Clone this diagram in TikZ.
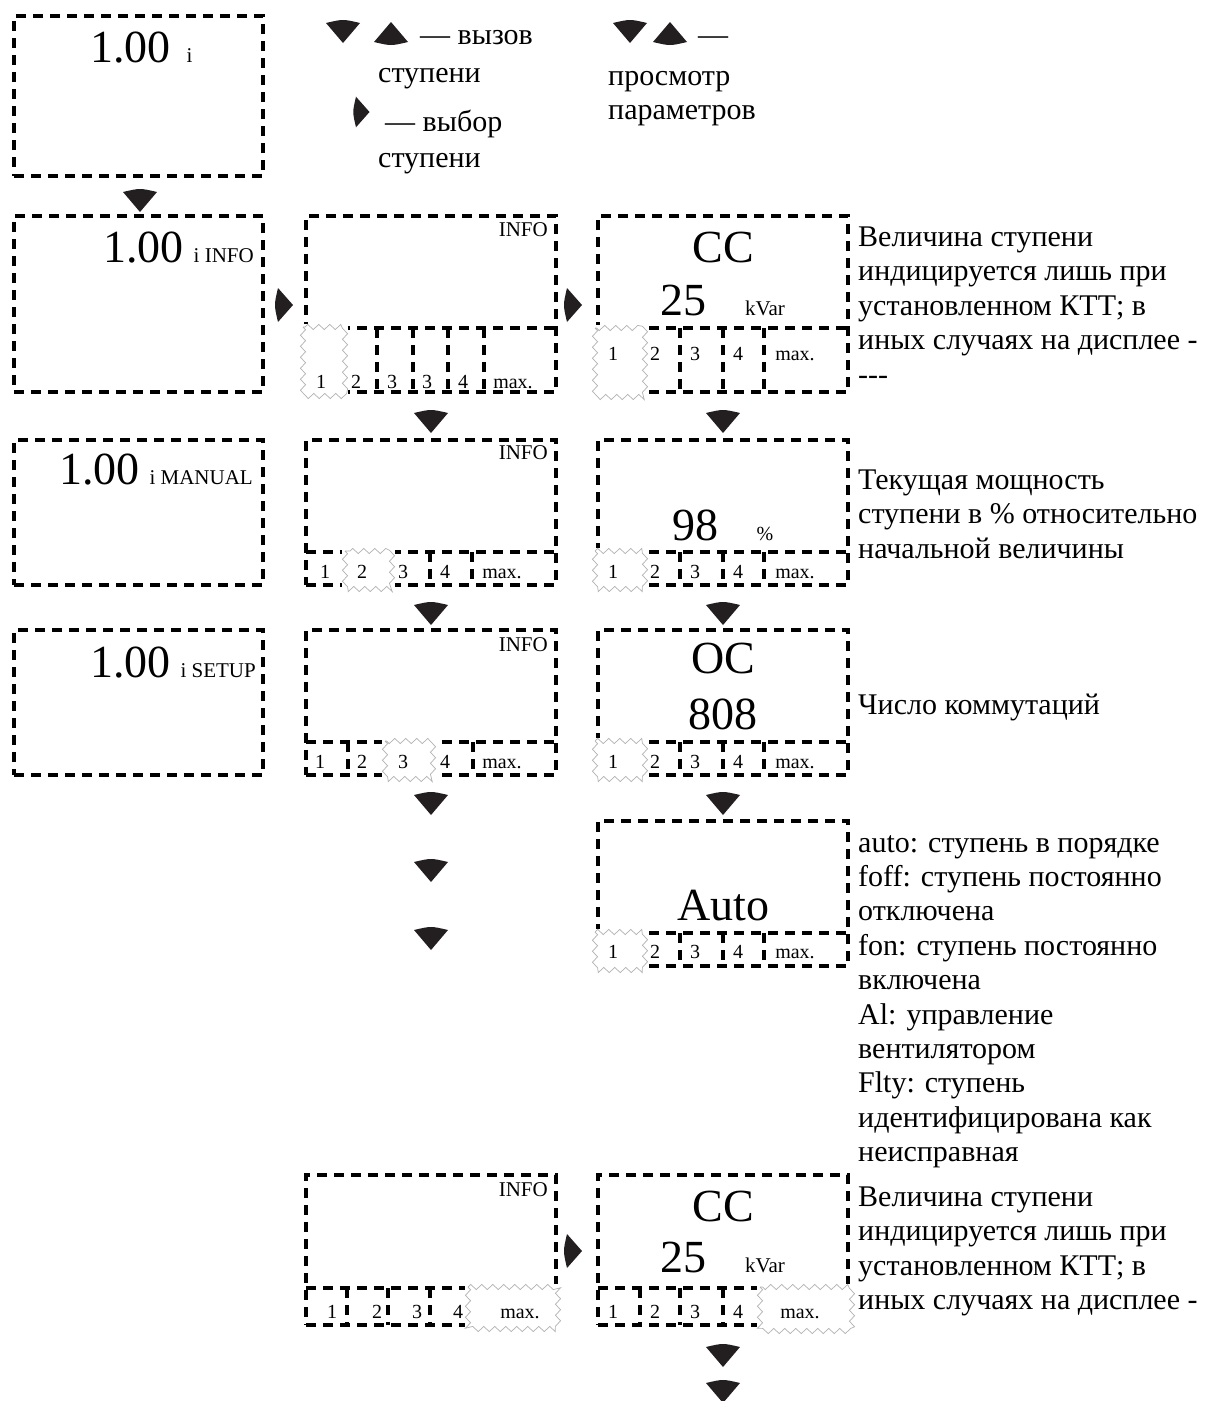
\documentclass[tikz,border=0pt]{standalone}
\usepackage{fontspec}
\setmainfont{Liberation Serif}
\usetikzlibrary{decorations.pathmorphing}
\definecolor{zigc}{RGB}{178,178,178}
\definecolor{tric}{RGB}{35,31,32}
\tikzset{
  dbox/.style={draw=black, line width=3.3pt, dash pattern=on 10pt off 7pt},
  dline/.style={draw=black, line width=3.3pt, dash pattern=on 10pt off 7pt},
  zig/.style={draw=zigc, line width=0.7pt, decorate, decoration={zigzag, amplitude=2.6pt, segment length=11pt}},
  bigt/.style={font=\fontsize{46}{46}\selectfont, inner sep=0pt, anchor=base},
  smallt/.style={font=\fontsize{21}{21}\selectfont, inner sep=0pt},
  labt/.style={font=\fontsize{20}{20}\selectfont, inner sep=0pt, anchor=base},
  txt/.style={font=\fontsize{30}{34.5}\selectfont, inner sep=0pt, anchor=base west},
  downtri/.pic={\fill[tric] (-17,0) .. controls (0,-4) .. (17,0) -- (0,20) -- cycle;},
  uptri/.pic={\fill[tric] (-17,0) .. controls (0,4) .. (17,0) -- (0,-20) -- cycle;},
  righttri/.pic={\fill[tric] (0,-17) .. controls (-4,0) .. (0,17) -- (15,0) -- cycle;}
}
\newcommand\screen[5]{\node[dbox,outer sep=0pt,inner sep=0pt,anchor=north west,minimum width=#4pt,minimum height=#5pt] (#1) at (#2,#3) {};}
\newcommand\zigcell[4]{\fill[white] (#1-3,#2-3) rectangle (#3+3,#4+3);\draw[zig] (#1,#2) rectangle (#3,#4);}
\begin{document}
\begin{tikzpicture}[x=1pt,y=-1pt]
\useasboundingbox (0,0) rectangle (1210,1401);

% ---------- screens ----------
\screen{sA}{14}{16}{249}{160}
\screen{sB}{14}{216}{249}{176}
\screen{sC}{14}{440}{249}{145}
\screen{sD}{14}{630}{249}{145}
\screen{m1}{306}{216}{250}{176}
\screen{m2}{306}{440}{250}{145}
\screen{m3}{306}{630}{250}{145}
\screen{m5}{306}{1175}{250}{150}
\screen{r1}{598}{216}{250}{176}
\screen{r2}{598}{440}{250}{145}
\screen{r3}{598}{630}{250}{145}
\screen{r4}{598}{821}{250}{145}
\screen{r5}{598}{1175}{250}{150}

% ---------- display dividers ----------
\draw[dline] (306,328) -- (556,328);
\draw[dline] (306,552) -- (556,552);
\draw[dline] (306,742) -- (556,742);
\draw[dline] (306,1288) -- (556,1288);
\draw[dline] (598,328) -- (848,328);
\draw[dline] (598,552) -- (848,552);
\draw[dline] (598,742) -- (848,742);
\draw[dline] (598,933) -- (848,933);
\draw[dline] (598,1288) -- (848,1288);

% ---------- segment separators ----------
\foreach \x in {377,413,448,484} \draw[dline] (\x,328) -- (\x,392);
\foreach \x in {430,472} \draw[dline] (\x,552) -- (\x,585);
\foreach \x in {348,473} \draw[dline] (\x,742) -- (\x,775);
\foreach \x in {347,388,430} \draw[dline] (\x,1288) -- (\x,1325);
\foreach \x in {680,723,764} {
  \draw[dline] (\x,328) -- (\x,392);
  \draw[dline] (\x,552) -- (\x,585);
  \draw[dline] (\x,742) -- (\x,775);
  \draw[dline] (\x,933) -- (\x,966);
}
\foreach \x in {640,680,723} \draw[dline] (\x,1288) -- (\x,1325);

% ---------- selected segments ----------
\zigcell{303}{327}{345}{396}
\zigcell{595}{328}{645}{397}
\zigcell{345}{551}{392}{589}
\zigcell{595}{551}{645}{589}
\zigcell{385}{741}{433}{779}
\zigcell{595}{741}{645}{779}
\zigcell{595}{932}{645}{970}
\zigcell{468}{1287}{558}{1329}
\zigcell{760}{1287}{852}{1331}

% ---------- segment labels ----------
\foreach \x/\t [count=\i] in {321/1,356/2,392/3,427/3,463/4,513/max.} \node[labt] (l1m\i) at (\x,388) {\t};
\foreach \x/\t [count=\i] in {325/1,362/2,403/3,445/4,502/max.} \node[labt] (l2m\i) at (\x,578) {\t};
\foreach \x/\t [count=\i] in {320/1,362/2,403/3,445/4,502/max.} \node[labt] (l3m\i) at (\x,768) {\t};
\foreach \x/\t [count=\i] in {332/1,377/2,417/3,458/4,520/max.} \node[labt] (l5m\i) at (\x,1318) {\t};
\foreach \x/\t [count=\i] in {613/1,655/2,695/3,738/4,795/max.} {
  \node[labt] (l1r\i) at (\x,360) {\t};
  \node[labt] (l2r\i) at (\x,578) {\t};
  \node[labt] (l3r\i) at (\x,768) {\t};
  \node[labt] (l4r\i) at (\x,958) {\t};
}
\foreach \x/\t [count=\i] in {613/1,655/2,695/3,738/4,800/max.} \node[labt] (l5r\i) at (\x,1318) {\t};

% ---------- screen texts ----------
\node[inner sep=0pt, anchor=base west] (tA) at (90,62) {{\fontsize{46}{46}\selectfont 1.00}\hspace{16pt}{\fontsize{21}{21}\selectfont i}};
\node[inner sep=0pt, anchor=base east] (tB) at (254,262) {{\fontsize{46}{46}\selectfont 1.00}\hspace{10pt}{\fontsize{21}{21}\selectfont i INFO}};
\node[inner sep=0pt, anchor=base east] (tC) at (253,484) {{\fontsize{46}{46}\selectfont 1.00}\hspace{10pt}{\fontsize{21}{21}\selectfont i MANUAL}};
\node[inner sep=0pt, anchor=base east] (tD) at (256,677) {{\fontsize{46}{46}\selectfont 1.00}\hspace{10pt}{\fontsize{21}{21}\selectfont i SETUP}};
\node[smallt, anchor=base east] (i1) at (548,236) {INFO};
\node[smallt, anchor=base east] (i2) at (548,459) {INFO};
\node[smallt, anchor=base east] (i3) at (548,651) {INFO};
\node[smallt, anchor=base east] (i5) at (548,1196) {INFO};
\node[bigt] (cc1) at (723,262) {CC};
\node[bigt] (v1) at (683,315) {25};
\node[smallt, anchor=base] (u1) at (765,315) {kVar};
\node[bigt] (v2) at (695,540) {98};
\node[labt] (u2) at (765,540) {\%};
\node[bigt] (oc) at (723,673) {OC};
\node[bigt] (v3) at (723,729) {808};
\node[bigt] (au) at (723,920) {Auto};
\node[bigt] (cc5) at (723,1221) {CC};
\node[bigt] (v5) at (683,1272) {25};
\node[smallt, anchor=base] (u5) at (765,1272) {kVar};

% ---------- legend ----------
\pic at (343,23) {downtri};
\pic at (391,42) {uptri};
\node[txt] (g1) at (420,44) {— вызов};
\node[txt] (g2) at (378,82) {ступени};
\pic[scale=0.9] at (356,112) {righttri};
\node[txt] (g3) at (385,131) {— выбор};
\node[txt] (g4) at (378,167) {ступени};
\pic at (630,23) {downtri};
\pic at (670,42) {uptri};
\node[txt] (g5) at (698,44) {—};
\node[txt] (g6) at (608,85) {просмотр};
\node[txt] (g7) at (608,119) {параметров};

% ---------- navigation arrows ----------
\pic at (140,192) {downtri};
\foreach \y in {413,605,795,862,930} \pic at (431,\y) {downtri};
\foreach \y in {413,605,795,1347,1383} \pic at (723,\y) {downtri};
\pic at (278,305) {righttri};
\pic at (567,305) {righttri};
\pic at (567,1251) {righttri};

% ---------- explanations ----------
\foreach \t [count=\i] in {Величина ступени, индицируется лишь при, установленном КТТ; в, иных случаях на дисплее -, -{}-{}-}
  \node[txt] (e1-\i) at (858,{246+34.5*(\i-1)}) {\t};
\foreach \t [count=\i] in {Текущая мощность, ступени в \% относительно, начальной величины}
  \node[txt] (e2-\i) at (858,{489+34.5*(\i-1)}) {\t};
\node[txt] (e3) at (858,714) {Число коммутаций};
\foreach \t [count=\i] in {auto: ступень в порядке, foff: ступень постоянно, отключена, fon: ступень постоянно, включена, Al: управление, вентилятором, Flty: ступень, идентифицирована как, неисправная}
  \node[txt] (e4-\i) at (858,{852+34.4*(\i-1)}) {\t};
\foreach \t [count=\i] in {Величина ступени, индицируется лишь при, установленном КТТ; в, иных случаях на дисплее -}
  \node[txt] (e5-\i) at (858,{1206+34.5*(\i-1)}) {\t};
\end{tikzpicture}
\end{document}
